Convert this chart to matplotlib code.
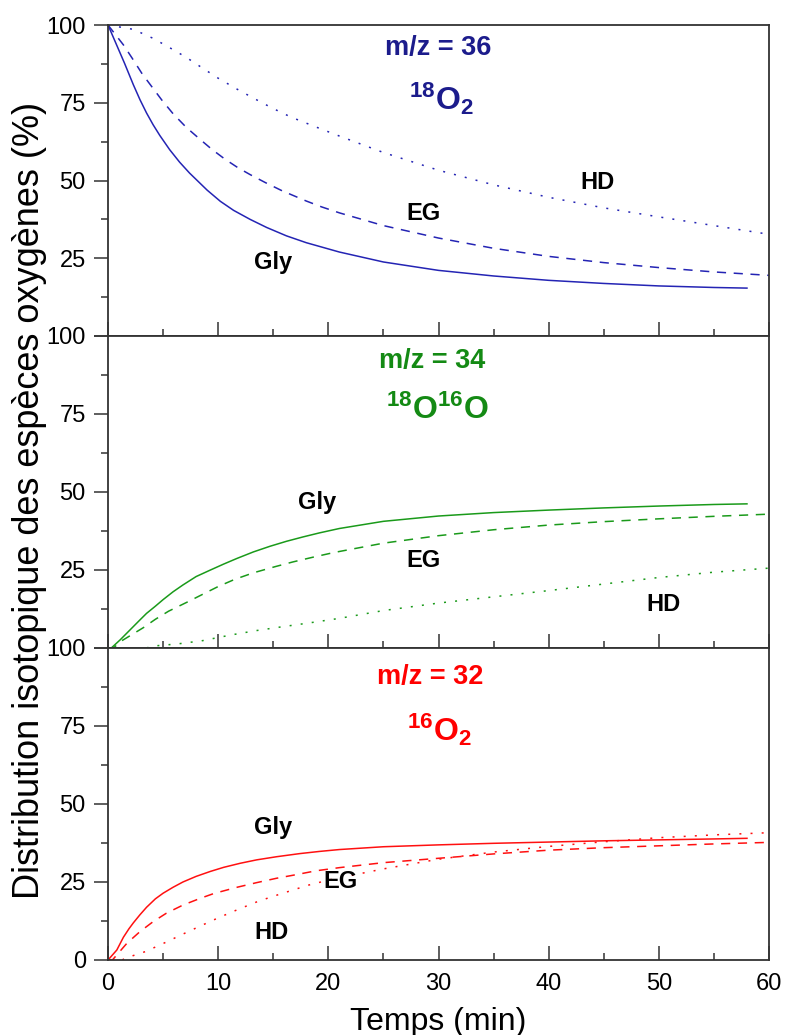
import matplotlib
matplotlib.use("Agg")
import matplotlib.pyplot as plt
from matplotlib.ticker import MultipleLocator, FixedLocator, FuncFormatter

plt.rcParams['font.family'] = ['Liberation Sans', 'DejaVu Sans']
plt.rcParams['mathtext.fontset'] = 'custom'
plt.rcParams['mathtext.rm'] = 'Liberation Sans:bold'
plt.rcParams['mathtext.it'] = 'Liberation Sans:bold'
plt.rcParams['mathtext.bf'] = 'Liberation Sans:bold'

# ---------------- data ----------------
# m/z = 36 (18O2)
t36_gly = [0, 1.5, 2.3, 2.9, 3.5, 4.1, 4.7, 5.6, 6.5, 7.4, 9, 10.2, 11.4, 12.9, 14.4, 16.2, 18, 19.9,
           21, 25, 30, 35, 40, 45, 50, 55, 58]
v36_gly = [100, 87.7, 80.8, 76, 71.7, 67.9, 64.5, 59.9, 55.9, 52.4, 46.9, 43.3, 40.4, 37.5, 34.9, 32.2, 30, 28.1,
           27, 23.8, 21.1, 19.3, 17.9, 16.9, 16.1, 15.6, 15.4]
t36_eg = [0, 1.4, 2.2, 3.1, 4.9, 5.9, 7.1, 8.4, 9.4, 10.6, 11.8, 12.9, 14.3, 15.8, 18, 19.4, 21,
          25, 30, 35, 40, 45, 50, 55, 60]
v36_eg = [100, 93.6, 89.3, 84.3, 75.8, 71.5, 67.1, 63.1, 60.1, 56.9, 54.1, 51.9, 49.3, 46.7, 43.4, 41.5, 39.6,
          35.5, 31.5, 28.2, 25.6, 23.6, 22, 20.6, 19.5]
t36_hd = [0, 2.3, 4.1, 5.7, 7.1, 8.6, 10, 11.7, 13.3, 14.9, 16.6, 19.1, 21, 25, 30, 35, 40, 45, 50, 55, 60]
v36_hd = [100, 98.6, 95.7, 92.5, 89.6, 86.1, 82.9, 79.4, 76.3, 73.3, 70.4, 66.9, 64.3, 59, 53.3, 48.6, 44.6,
          41.2, 38.3, 35.5, 32.7]

# m/z = 34 (18O16O)
t34_gly = [0, 0.3, 1.1, 2, 2.9, 3.5, 4.3, 5, 5.9, 6.8, 8, 9.3, 10.5, 11.7, 13.2, 14.7, 16.2, 17.7, 19.2,
           21, 25, 30, 35, 40, 45, 50, 55, 58]
v34_gly = [0, 0, 2.6, 5.8, 9, 11.1, 13.4, 15.5, 18, 20.2, 22.9, 25, 26.9, 28.7, 30.8, 32.6, 34.2, 35.6, 36.9,
           38.3, 40.6, 42.3, 43.4, 44.2, 44.9, 45.5, 46, 46.2]
t34_eg = [0, 0.5, 1.1, 3.2, 4.3, 5.5, 7.3, 8.7, 10, 11.5, 13.2, 15.2, 16.8, 18.6, 20.5,
          25, 30, 35, 40, 45, 50, 55, 60]
v34_eg = [0, 0, 2, 6.5, 9.2, 11.8, 14.9, 17.4, 19.7, 22, 24.1, 26.1, 27.6, 29.1, 30.6,
          33.6, 36, 37.9, 39.4, 40.5, 41.4, 42.2, 42.9]
t34_hd = [3.5, 4, 6.3, 8.5, 11.2, 13.5, 15.8, 18, 21, 25, 30, 35, 40, 45, 50, 55, 60]
v34_hd = [0, 0.6, 1.3, 2.3, 4.2, 5.6, 6.8, 7.9, 9.5, 12, 14.4, 16.4, 18.4, 20.5, 22.6, 24.3, 25.6]

# m/z = 32 (16O2)
t32_gly = [0, 0.8, 1.4, 1.9, 2.3, 2.9, 3.5, 4.3, 5, 5.9, 6.8, 8, 9.3, 10.5, 12, 13.5, 15.3, 17.4, 19.2,
           21, 25, 30, 35, 40, 45, 50, 55, 58]
v32_gly = [0, 3.2, 7.3, 10, 11.9, 14.5, 16.9, 19.6, 21.4, 23.3, 25, 26.8, 28.4, 29.7, 31, 32.1, 33.1, 34.1, 34.8,
           35.4, 36.3, 36.9, 37.4, 37.8, 38.2, 38.5, 38.8, 39]
t32_eg = [0, 0.4, 1.7, 2.9, 4.1, 5.3, 6.8, 8.4, 9.6, 11.7, 13.5, 15.3, 17, 18.9, 21,
          25, 30, 35, 40, 45, 50, 55, 60]
v32_eg = [0, 0, 5.3, 9.1, 12.3, 15, 17.6, 19.8, 21.3, 23.3, 24.8, 26.2, 27.3, 28.6, 29.6,
          31.2, 32.6, 34.0, 35.2, 36.0, 36.6, 37.2, 37.7]
t32_hd = [1.3, 1.5, 3.4, 5.2, 6.8, 8.2, 10, 11.8, 13.7, 15.6, 17.3, 18.2, 20, 25, 30, 35, 40, 45, 50, 55, 60]
v32_hd = [0, 0.5, 2.7, 5.6, 8.3, 10.6, 13.5, 16.2, 18.9, 21.1, 23, 24, 25.6, 29.2, 32.3, 34.6, 36.4, 37.9, 39.2,
          40.1, 40.8]

y_ticks = [0, 25, 50, 75, 100]
x_ticks = [0, 10, 20, 30, 40, 50, 60]

panels = [
    dict(series=[(t36_gly, v36_gly), (t36_eg, v36_eg), (t36_hd, v36_hd)],
         color='#2424b4', tcolor='#1c1c8c', mz='m/z = 36', species=r'$^{18}$O$_2$',
         mzpos=(0.499, 0.926), sppos=(0.505, 0.762),
         labels=[('Gly', 0.250, 0.235), ('EG', 0.478, 0.395), ('HD', 0.741, 0.495)]),
    dict(series=[(t34_gly, v34_gly), (t34_eg, v34_eg), (t34_hd, v34_hd)],
         color='#1a9a1a', tcolor='#148a14', mz='m/z = 34', species=r'$^{18}$O$^{16}$O',
         mzpos=(0.490, 0.920), sppos=(0.498, 0.763),
         labels=[('Gly', 0.316, 0.465), ('EG', 0.477, 0.282), ('HD', 0.841, 0.138)]),
    dict(series=[(t32_gly, v32_gly), (t32_eg, v32_eg), (t32_hd, v32_hd)],
         color='#ff1010', tcolor='#ff0000', mz='m/z = 32', species=r'$^{16}$O$_2$',
         mzpos=(0.487, 0.907), sppos=(0.502, 0.737),
         labels=[('Gly', 0.250, 0.426), ('EG', 0.351, 0.250), ('HD', 0.247, 0.087)]),
]

fig = plt.figure(figsize=(7.85, 10.35), dpi=100)
W, H = 785, 1035
left_px, right_px = 108, 769
bounds = [(25, 336), (336, 648), (648, 960)]
styles = [dict(linestyle='-'), dict(linestyle=(0, (6, 5))), dict(linestyle=(0, (1.3, 6)))]
spine_col = '#333333'

for i, (p, (top_px, bot_px)) in enumerate(zip(panels, bounds)):
    ax = fig.add_axes([left_px / W, 1 - bot_px / H, (right_px - left_px) / W, (bot_px - top_px) / H])
    for (t, v), st in zip(p['series'], styles):
        ax.plot(t, v, color=p['color'], lw=1.1, **st)
    ax.set_xlim(0, 60)
    ax.set_ylim(0, 100)
    ax.xaxis.set_major_locator(FixedLocator(x_ticks))
    ax.xaxis.set_minor_locator(MultipleLocator(5))
    ax.yaxis.set_major_locator(FixedLocator(y_ticks))
    ax.yaxis.set_minor_locator(MultipleLocator(12.5))
    ax.tick_params(axis='x', which='major', direction='in', length=10, width=1.1, color=spine_col,
                   labelsize=17, pad=9, top=False)
    ax.tick_params(axis='x', which='minor', direction='in', length=5, width=1.1, color=spine_col, top=False)
    ax.tick_params(axis='y', which='major', direction='out', length=10, width=1.1, color=spine_col,
                   labelsize=17, pad=6, right=False)
    ax.tick_params(axis='y', which='minor', direction='out', length=5, width=1.1, color=spine_col, right=False)
    if i < 2:
        ax.set_xticklabels([])
        ax.yaxis.set_major_formatter(FuncFormatter(lambda v, pos: '' if v == 0 else f'{int(v)}'))
    else:
        ax.set_xlabel('Temps (min)', fontsize=23, labelpad=9)
    for s in ax.spines.values():
        s.set_color(spine_col)
        s.set_linewidth(1.3)
    ax.text(*p['mzpos'], p['mz'], transform=ax.transAxes, ha='center', va='center',
            fontsize=19.5, fontweight='bold', color=p['tcolor'])
    ax.text(*p['sppos'], p['species'], transform=ax.transAxes, ha='center', va='center',
            fontsize=23, fontweight='bold', color=p['tcolor'])
    for lab, x, y in p['labels']:
        ax.text(x, y, lab, transform=ax.transAxes, ha='center', va='center',
                fontsize=17, fontweight='bold', color='black')

fig.text(30 / W, 1 - 500 / H, 'Distribution isotopique des espèces oxygènes (%)', rotation=90,
         ha='center', va='center', fontsize=26)

fig.savefig('out.png', dpi=100)
